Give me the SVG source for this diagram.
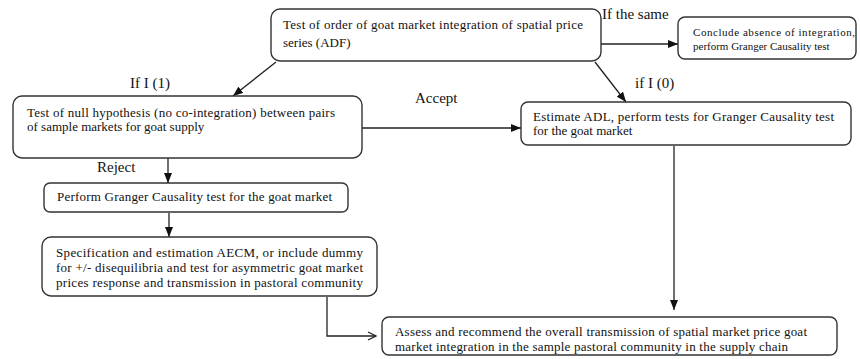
<svg xmlns="http://www.w3.org/2000/svg" width="860" height="359" viewBox="0 0 860 359">
<defs>
<marker id="ah" viewBox="0 0 10 8" refX="10" refY="4" markerWidth="10" markerHeight="8" markerUnits="userSpaceOnUse" orient="auto">
<path d="M0,0 L10,4 L0,8 Z" fill="#111"/>
</marker>
<marker id="open" viewBox="0 0 10 10" refX="9" refY="5" markerWidth="10" markerHeight="10" markerUnits="userSpaceOnUse" orient="auto">
<path d="M1,1 L9,5 L1,9" fill="none" stroke="#222" stroke-width="1.3"/>
</marker>
</defs>
<style>
.box{fill:#fff;stroke:#333;stroke-width:1.4}
.t{font-family:"Liberation Serif","Times New Roman",serif;font-size:13px;fill:#111}
.s{font-size:11px}
.lbl{font-family:"Liberation Serif","Times New Roman",serif;font-size:15px;fill:#111}
.c{fill:none;stroke:#222;stroke-width:1.3}
</style>
<rect width="860" height="359" fill="#fff"/>
<g id="connectors">
<line class="c" x1="276" y1="62" x2="233" y2="96" marker-end="url(#ah)"/>
<line class="c" x1="595" y1="62" x2="626" y2="102" marker-end="url(#ah)"/>
<line class="c" x1="601" y1="44" x2="678" y2="44" marker-end="url(#ah)"/>
<line class="c" x1="362" y1="128" x2="521" y2="128" marker-end="url(#ah)"/>
<line class="c" x1="168" y1="158" x2="168" y2="183" marker-end="url(#ah)"/>
<line class="c" x1="169" y1="213" x2="169" y2="237" marker-end="url(#ah)"/>
<line class="c" x1="674" y1="146" x2="674" y2="310" marker-end="url(#ah)"/>
<polyline class="c" points="327,297 327,336 376,336" marker-end="url(#open)"/>
<text class="lbl" x="602" y="19">If the same</text>
<text class="lbl" x="130" y="88">If I (1)</text>
<text class="lbl" x="415" y="103">Accept</text>
<text class="lbl" x="635" y="88">if I (0)</text>
<text class="lbl" x="97" y="172">Reject</text>
</g>
<g id="node-top">
<rect class="box" x="271" y="9" width="330" height="52" rx="9"/>
<text class="t" x="283" y="29" textLength="300" lengthAdjust="spacing">Test of order of goat market integration of spatial price</text>
<text class="t" x="283" y="47">series (ADF)</text>
</g>
<g id="node-conclude">
<rect class="box" x="678" y="17" width="178" height="42" rx="7"/>
<text class="t s" x="693" y="36" textLength="162" lengthAdjust="spacing">Conclude absence of integration,</text>
<text class="t s" x="693" y="50">perform Granger Causality test</text>
</g>
<g id="node-null">
<rect class="box" x="13" y="96" width="349" height="62" rx="9"/>
<text class="t" x="27" y="117" textLength="308" lengthAdjust="spacing">Test of null hypothesis (no co-integration) between pairs</text>
<text class="t" x="27" y="131">of sample markets for goat supply</text>
</g>
<g id="node-adl">
<rect class="box" x="521" y="102" width="330" height="43" rx="7"/>
<text class="t" x="533" y="121" textLength="301" lengthAdjust="spacing">Estimate ADL, perform tests for Granger Causality test</text>
<text class="t" x="533" y="135">for the goat market</text>
</g>
<g id="node-granger">
<rect class="box" x="44" y="183" width="304" height="29" rx="6"/>
<text class="t" x="57" y="201" textLength="275" lengthAdjust="spacing">Perform Granger Causality test for the goat market</text>
</g>
<g id="node-aecm">
<rect class="box" x="42" y="237" width="335" height="59" rx="9"/>
<text class="t" x="56" y="257" textLength="307" lengthAdjust="spacing">Specification and estimation AECM, or include dummy</text>
<text class="t" x="56" y="272" textLength="307" lengthAdjust="spacing">for +/- disequilibria and test for asymmetric goat market</text>
<text class="t" x="56" y="287" textLength="307" lengthAdjust="spacing">prices response and transmission in pastoral community</text>
</g>
<g id="node-assess">
<rect class="box" x="382" y="317" width="455" height="38" rx="7"/>
<text class="t" x="395" y="336" textLength="412" lengthAdjust="spacing">Assess and recommend the overall transmission of spatial market price goat</text>
<text class="t" x="395" y="351" textLength="393" lengthAdjust="spacing">market integration in the sample pastoral community in the supply chain</text>
</g>
</svg>
